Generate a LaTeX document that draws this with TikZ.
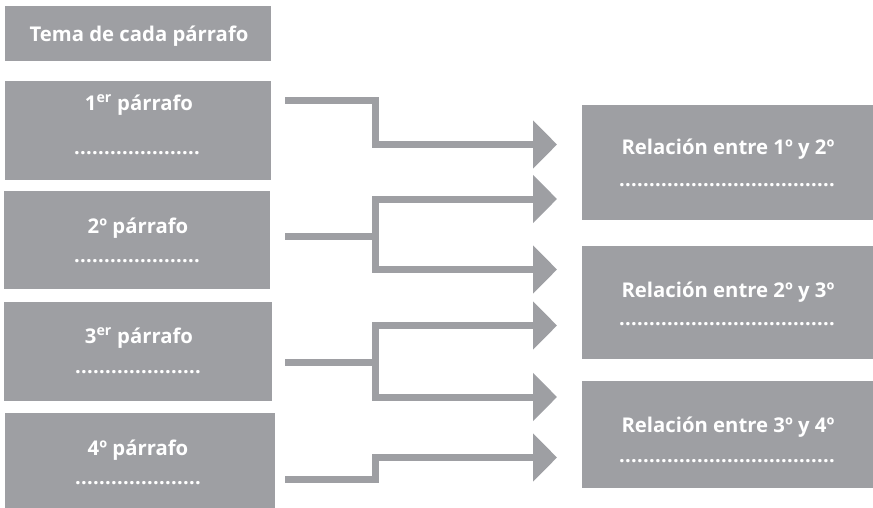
\documentclass[tikz,border=0pt]{standalone}
\usepackage{fontspec}
\setmainfont{Open Sans}
\usetikzlibrary{arrows.meta}
\definecolor{boxgray}{RGB}{158,159,163}
\newcommand\dotrow[1]{\foreach \i in {1,...,#1}{\makebox[6pt]{.}}}
\begin{document}
\begin{tikzpicture}[x=1pt,y=-1pt,
  box/.style={fill=boxgray, inner sep=0pt, outer sep=0pt, anchor=north west},
  lbl/.style={text=white, font=\fontsize{20.3}{22}\selectfont\bfseries, anchor=base, inner sep=0pt},
  dotl/.style={text=white, font=\fontsize{20}{22}\selectfont\bfseries, anchor=base, inner sep=0pt},
  conn/.style={draw=boxgray, line width=7pt, line join=miter, line cap=butt},
  tipend/.style={-{Triangle[width=47pt,length=24pt]}},
  tipboth/.style={{Triangle[width=47pt,length=24pt]}-{Triangle[width=47pt,length=24pt]}}]
\useasboundingbox (0,0) rectangle (873,507);
% left boxes
\node[box, minimum width=266pt, minimum height=55pt] (tema) at (5,6) {};
\node[box, minimum width=266pt, minimum height=99pt] (p1) at (5,81) {};
\node[box, minimum width=266pt, minimum height=98pt] (p2) at (4,191) {};
\node[box, minimum width=268pt, minimum height=99pt] (p3) at (4,302) {};
\node[box, minimum width=270pt, minimum height=95pt] (p4) at (5,413) {};
% right boxes
\node[box, minimum width=291pt, minimum height=115pt] (r1) at (582,105) {};
\node[box, minimum width=291pt, minimum height=113pt] (r2) at (582,246) {};
\node[box, minimum width=291pt, minimum height=107pt] (r3) at (582,381) {};
% labels
\node[lbl] (tTema) at (139,41) {Tema de cada párrafo};
\node[lbl] (t1) at (139,110) {1\textsuperscript{er} párrafo};
\node[dotl] (d1) at (137,154) {\dotrow{21}};
\node[lbl] (t2) at (138,233) {2º párrafo};
\node[dotl] (d2) at (137,262) {\dotrow{21}};
\node[lbl] (t3) at (139,343) {3\textsuperscript{er} párrafo};
\node[dotl] (d3) at (138,373) {\dotrow{21}};
\node[lbl] (t4) at (138,455) {4º párrafo};
\node[dotl] (d4) at (138,484) {\dotrow{21}};
\node[lbl] (u1) at (728,154) {Relación entre 1º y 2º};
\node[dotl] (e1d) at (727,186) {\dotrow{36}};
\node[lbl] (u2) at (728,297) {Relación entre 2º y 3º};
\node[dotl] (e2d) at (727,325) {\dotrow{36}};
\node[lbl] (u3) at (728,432) {Relación entre 3º y 4º};
\node[dotl] (e3d) at (727,462) {\dotrow{36}};
% connector coordinates
\coordinate (s1) at (285,100);
\coordinate (j1) at (375.5,100);
\coordinate (a1) at (557,144.5);
\coordinate (s2) at (285,236);
\coordinate (j2) at (375.5,236);
\coordinate (a2) at (557,199);
\coordinate (b2) at (557,269.5);
\coordinate (s3) at (285,362);
\coordinate (j3) at (375.5,362);
\coordinate (a3) at (557,325.5);
\coordinate (b3) at (557,397);
\coordinate (s4) at (285,479);
\coordinate (j4) at (375.5,479);
\coordinate (a4) at (557,457.5);
% connectors
\draw[conn, tipend] (s1) -- (j1) |- (a1);
\draw[conn] (s2) -- (j2);
\draw[conn, tipboth] (a2) -| (j2) |- (b2);
\draw[conn] (s3) -- (j3);
\draw[conn, tipboth] (a3) -| (j3) |- (b3);
\draw[conn, tipend] (s4) -- (j4) |- (a4);
\end{tikzpicture}
\end{document}
